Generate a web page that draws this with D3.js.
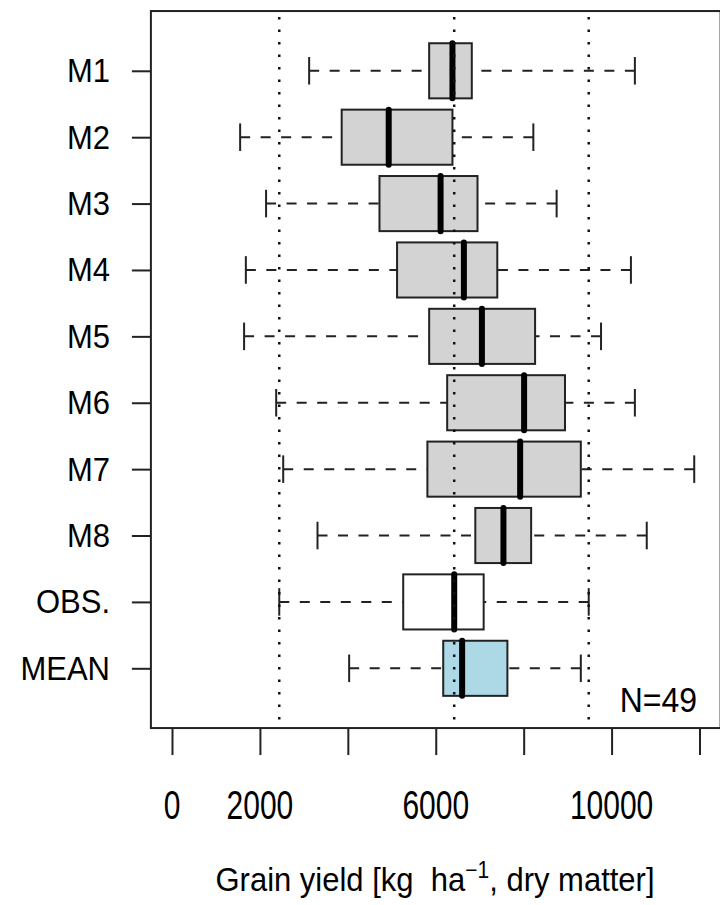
<!DOCTYPE html>
<html>
<head>
<meta charset="utf-8">
<script src="https://cdn.jsdelivr.net/npm/d3@7"></script>
<style>
  html, body { margin: 0; padding: 0; background: #fff; }
  svg { display: block; }
  text { font-family: "Liberation Sans", Arial, sans-serif; fill: #000; }
</style>
</head>
<body>
<svg id="chart" width="720" height="905"></svg>
<script>
// Grain yield distributions per model, the observations and the model mean
const categories = ["M1", "M2", "M3", "M4", "M5", "M6", "M7", "M8", "OBS.", "MEAN"];
const whiskerLow = [3120, 1550, 2140, 1680, 1640, 2370, 2530, 3310, 2440, 4030];
const quartile1  = [5850, 3860, 4720, 5120, 5850, 6260, 5810, 6900, 5260, 6170];
const medians    = [6380, 4930, 6110, 6640, 7050, 8010, 7920, 7540, 6420, 6600];
const quartile3  = [6820, 6380, 6950, 7400, 8260, 8940, 9300, 8170, 7090, 7630];
const whiskerHigh = [10530, 8220, 8750, 10440, 9760, 10530, 11880, 10800, 9480, 9300];
const boxFills = ["#d3d3d3", "#d3d3d3", "#d3d3d3", "#d3d3d3", "#d3d3d3",
                  "#d3d3d3", "#d3d3d3", "#d3d3d3", "#ffffff", "#add8e6"];
// reference lines: observed whisker extremes and observed median
const referenceLines = [2440, 6420, 9480];
const xTicks = [0, 2000, 4000, 6000, 8000, 10000, 12000];
const xTickLabels = ["0", "2000", "", "6000", "", "10000", ""];
const sampleNote = "N=49";

const rows = categories.map((c, i) => ({
  cat: c, lo: whiskerLow[i], q1: quartile1[i], med: medians[i],
  q3: quartile3[i], hi: whiskerHigh[i], fill: boxFills[i]
}));

const svg = d3.select("#chart");

const x = d3.scaleLinear().domain([0, 12000]).range([172, 699.5]);
const y = d3.scalePoint().domain(categories).range([70.8, 668.3]);
const step = y.step();
const boxH = step * 0.83;
const capH = boxH * 0.5;

const plotTop = y(categories[0]) - step * 0.9;
const plotBottom = y(categories[categories.length - 1]) + step * 0.9;
const plotLeft = x(-480);
const plotRight = x(12480);

// text placed at (px, py) with an optional vertical stretch
function label(parent, px, py, str, size, anchor, stretch) {
  return parent.append("text")
    .attr("transform", `translate(${px},${py}) scale(1,${stretch})`)
    .attr("text-anchor", anchor).attr("font-size", size).text(str);
}

const g = svg.append("g");

// whiskers, dashed, drawn from the staple toward the box
const whiskerStyle = sel => sel.attr("stroke", "#222").attr("stroke-width", 2)
  .attr("stroke-dasharray", "10,10.5").attr("fill", "none");

g.selectAll("line.wlo").data(rows).join("line").attr("class", "wlo")
  .attr("x1", d => x(d.lo)).attr("x2", d => x(d.q1))
  .attr("y1", d => y(d.cat)).attr("y2", d => y(d.cat)).call(whiskerStyle);
g.selectAll("line.whi").data(rows).join("line").attr("class", "whi")
  .attr("x1", d => x(d.hi)).attr("x2", d => x(d.q3))
  .attr("y1", d => y(d.cat)).attr("y2", d => y(d.cat)).call(whiskerStyle);

// staples
g.selectAll("line.slo").data(rows).join("line").attr("class", "slo")
  .attr("x1", d => x(d.lo)).attr("x2", d => x(d.lo))
  .attr("y1", d => y(d.cat) - capH / 2).attr("y2", d => y(d.cat) + capH / 2)
  .attr("stroke", "#222").attr("stroke-width", 2);
g.selectAll("line.shi").data(rows).join("line").attr("class", "shi")
  .attr("x1", d => x(d.hi)).attr("x2", d => x(d.hi))
  .attr("y1", d => y(d.cat) - capH / 2).attr("y2", d => y(d.cat) + capH / 2)
  .attr("stroke", "#222").attr("stroke-width", 2);

// boxes
g.selectAll("rect.box").data(rows).join("rect").attr("class", "box")
  .attr("x", d => x(d.q1)).attr("width", d => x(d.q3) - x(d.q1))
  .attr("y", d => y(d.cat) - boxH / 2).attr("height", boxH)
  .attr("fill", d => d.fill).attr("stroke", "#222").attr("stroke-width", 2);

// medians
g.selectAll("line.med").data(rows).join("line").attr("class", "med")
  .attr("x1", d => x(d.med)).attr("x2", d => x(d.med))
  .attr("y1", d => y(d.cat) - boxH / 2).attr("y2", d => y(d.cat) + boxH / 2)
  .attr("stroke", "#000").attr("stroke-width", 6).attr("stroke-linecap", "round");

// dotted reference lines
g.selectAll("line.ref").data(referenceLines).join("line").attr("class", "ref")
  .attr("x1", d => x(d)).attr("x2", d => x(d))
  .attr("y1", plotTop + 6).attr("y2", plotBottom)
  .attr("stroke", "#111").attr("stroke-width", 2.5)
  .attr("stroke-dasharray", "2.5,10");

// plot frame
svg.append("rect")
  .attr("x", plotLeft).attr("y", plotTop)
  .attr("width", plotRight - plotLeft).attr("height", plotBottom - plotTop)
  .attr("fill", "none").attr("stroke", "#222").attr("stroke-width", 2);

// x axis: ticks from d3, labels drawn separately
const xAxis = d3.axisBottom(x).tickValues(xTicks).tickFormat("").tickSize(27);
const gx = svg.append("g").attr("transform", `translate(0,${plotBottom})`).call(xAxis);
gx.select(".domain").remove();
gx.selectAll(".tick line").attr("stroke", "#222").attr("stroke-width", 2);
gx.selectAll(".tick text").remove();
xTicks.forEach((t, i) => {
  if (xTickLabels[i]) label(svg, x(t), 819, xTickLabels[i], 30, "middle", 1.35);
});

// y axis: ticks from d3, labels drawn separately
const yAxis = d3.axisLeft(y).tickFormat("").tickSize(19);
const gy = svg.append("g").attr("transform", `translate(${plotLeft},0)`).call(yAxis);
gy.select(".domain").remove();
gy.selectAll(".tick line").attr("stroke", "#222").attr("stroke-width", 2);
gy.selectAll(".tick text").remove();
categories.forEach(c => label(svg, 110, y(c) + 11.5, c, 31, "end", 1.05));

// sample size note
label(svg, 697, plotBottom - 16, sampleNote, 32, "end", 1.1);

// x axis title with superscript unit
const title = label(svg, 435, 891, "", 31, "middle", 1.1).style("white-space", "pre");
title.append("tspan").text("Grain yield [kg  ha");
title.append("tspan").attr("font-size", 21).attr("dy", -12).text("\u22121");
title.append("tspan").attr("dy", 12).text(", dry matter]");
</script>
</body>
</html>
